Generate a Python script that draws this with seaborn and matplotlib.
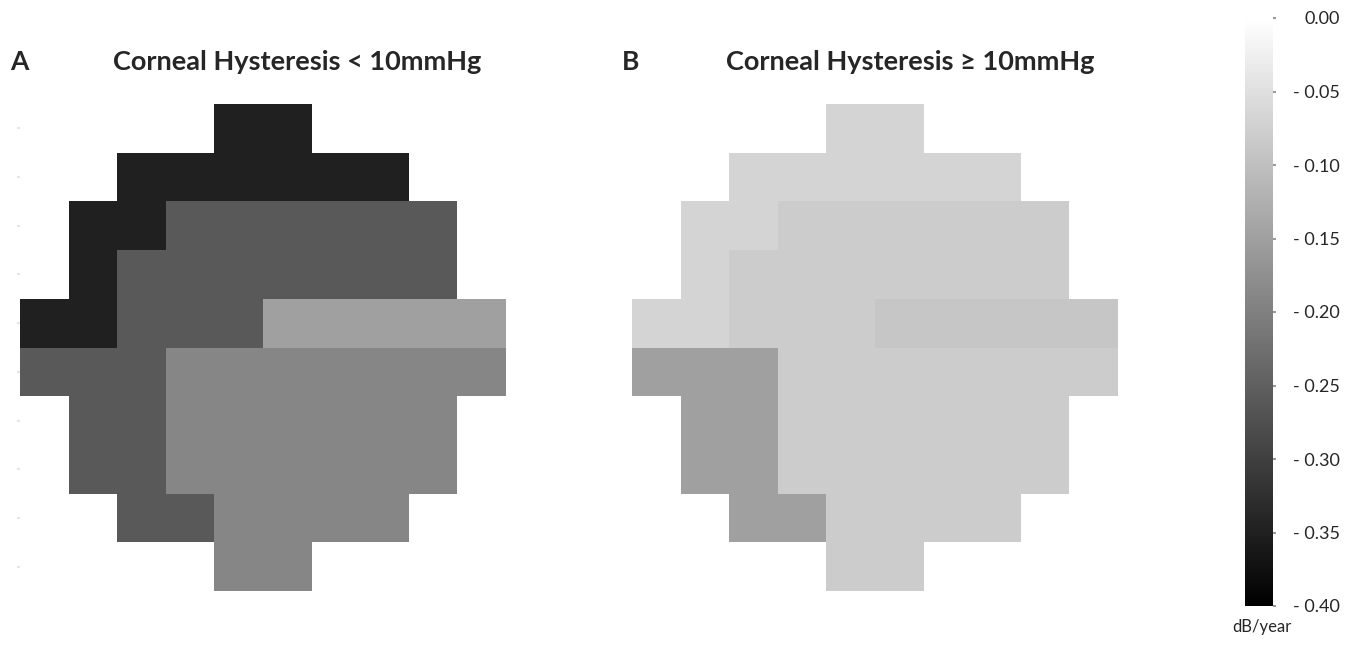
import numpy as np
import pandas as pd
import matplotlib
matplotlib.use("Agg")
import matplotlib.pyplot as plt
import seaborn as sns

# visual field layout: sector id per test location ("." = not tested)
sector_map = [
    "....11....",
    "..111111..",
    ".11222222.",
    ".12222222.",
    "1122233333",
    "4445555555",
    ".44555555.",
    ".44555555.",
    "..445555..",
    "....55....",
]
sectors = ["1", "2", "3", "4", "5"]

# rate of progression per sector (dB/year)
rate_ch_low = [-0.35, -0.26, -0.15, -0.26, -0.19]
rate_ch_high = [-0.068, -0.081, -0.090, -0.149, -0.080]

titles = ["Corneal Hysteresis < 10mmHg", "Corneal Hysteresis \u2265 10mmHg"]
panel_letters = ["A", "B"]
cbar_ticks = [0.0, -0.05, -0.10, -0.15, -0.20, -0.25, -0.30, -0.35, -0.40]


def build_grid(rates):
    lookup = dict(zip(sectors, rates))
    grid = [[lookup.get(ch, np.nan) for ch in row] for row in sector_map]
    return pd.DataFrame(grid)


sns.set_style("white")
plt.rcParams["font.family"] = ["Lato", "DejaVu Sans"]

fig = plt.figure(figsize=(13.56, 6.48), dpi=100)
ax_a = fig.add_axes([20 / 1356, 57 / 648, 486 / 1356, 487 / 648])
ax_b = fig.add_axes([632 / 1356, 57 / 648, 486 / 1356, 487 / 648])
cax = fig.add_axes([1245 / 1356, 42 / 648, 28 / 1356, 588 / 648])

sns.heatmap(build_grid(rate_ch_low), ax=ax_a, cmap="gray", vmin=-0.4, vmax=0,
            cbar=True, cbar_ax=cax, square=False, linewidths=0,
            xticklabels=False, yticklabels=False)
sns.heatmap(build_grid(rate_ch_high), ax=ax_b, cmap="gray", vmin=-0.4, vmax=0,
            cbar=False, square=False, linewidths=0,
            xticklabels=False, yticklabels=False)

# faint row ticks on the left of panel A
ax_a.set_yticks(np.arange(10) + 0.5)
ax_a.set_yticklabels([])
ax_a.tick_params(axis="y", left=True, length=2, width=1.5, color="#e6e6e6")
ax_b.tick_params(left=False, bottom=False)
for ax in (ax_a, ax_b):
    ax.set_xlabel("")
    ax.set_ylabel("")
    for s in ax.spines.values():
        s.set_visible(False)

# colorbar
cbar = ax_a.collections[0].colorbar
cbar.outline.set_visible(False)
cbar.set_ticks(cbar_ticks)
cbar.set_ticklabels(["0.00" if t == 0 else "- %.2f" % abs(t) for t in cbar_ticks])
cax.tick_params(length=2, width=1.5, color="#999999", labelsize=13, pad=46)
for lbl in cax.get_yticklabels():
    lbl.set_horizontalalignment("right")
cax.text(0.6, -0.022, "dB/year", transform=cax.transAxes, ha="center",
         va="top", fontsize=12)

# titles and panel letters
fig.text(10 / 1356, 1 - 62 / 648, panel_letters[0], fontsize=19,
         fontweight="bold", va="center", ha="left")
fig.text(297 / 1356, 1 - 62 / 648, titles[0], fontsize=19.5,
         fontweight="bold", va="center", ha="center")
fig.text(622 / 1356, 1 - 62 / 648, panel_letters[1], fontsize=19,
         fontweight="bold", va="center", ha="left")
fig.text(910 / 1356, 1 - 62 / 648, titles[1], fontsize=19.5,
         fontweight="bold", va="center", ha="center")

fig.savefig("out.png", dpi=100, facecolor="white")
